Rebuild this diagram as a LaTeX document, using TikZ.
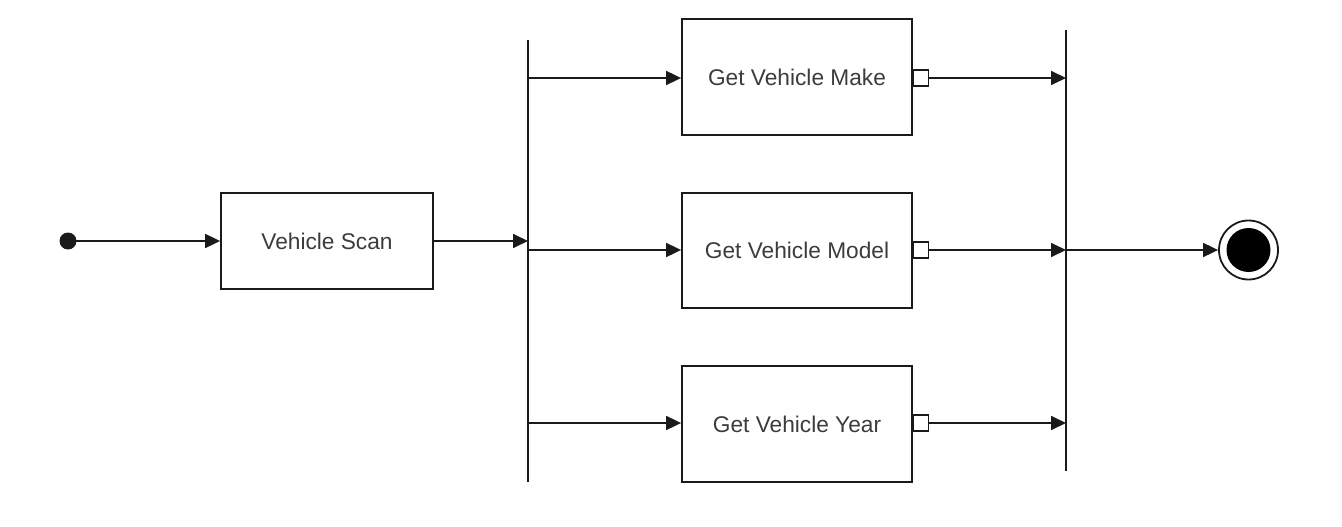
\documentclass[tikz,border=0pt]{standalone}
\usepackage{fontspec}
\setmainfont{Liberation Sans}
\usetikzlibrary{arrows.meta,positioning}
\definecolor{ln}{HTML}{1A1A1A}
\definecolor{tx}{HTML}{3C3C3C}
\tikzset{
  act/.style={draw=ln,line width=1.8pt,fill=white,minimum width=230pt,inner sep=0pt,text=tx,font=\fontsize{22.7}{26}\selectfont},
  bar/.style={fill=ln,draw=none,minimum width=2pt,inner sep=0pt},
  pinbox/.style={draw=ln,line width=1.5pt,fill=white,minimum width=15pt,minimum height=16pt,inner sep=0pt,anchor=west},
  flow/.style={draw=ln,line width=1.8pt,-{Triangle[length=15pt,width=14pt]}},
}
\begin{document}
\begin{tikzpicture}[x=1pt,y=-1pt]
\useasboundingbox (0,0) rectangle (1342,527);
% start
\node[circle,fill=ln,minimum size=17pt,inner sep=0pt] (start) at (68,241) {};
\node[act,minimum width=212pt,minimum height=96pt] (scan) at (327,241) {Vehicle Scan};
% fork and join bars
\node[bar,minimum height=442pt] (fork) at (528,261) {};
\node[bar,minimum height=441pt] (join) at (1066,250.5) {};
% actions
\node[act,minimum height=116pt] (make) at (797,77) {Get Vehicle Make};
\node[act,minimum height=115pt] (model) at (797,250.5) {Get Vehicle Model};
\node[act,minimum height=116pt] (year) at (797,424) {Get Vehicle Year};
% pins
\node[pinbox] (pinA) at (make.east |- 0,78) {};
\node[pinbox] (pinB) at (model.east |- 0,250) {};
\node[pinbox] (pinC) at (year.east |- 0,423) {};
% end
\node[circle,draw=ln,line width=1.8pt,fill=white,minimum size=59pt,inner sep=0pt] (end) at (1248.5,250) {};
\node[circle,fill=black,minimum size=44pt,inner sep=0pt] at (end.center) {};
% connectors
\draw[flow] (start.center) -- (scan.west);
\draw[flow] (scan.east) -- (fork.center |- scan.east);
\draw[flow] (fork.center |- 0,78) -- (make.west |- 0,78);
\draw[flow] (fork.center |- 0,250) -- (model.west |- 0,250);
\draw[flow] (fork.center |- 0,423) -- (year.west |- 0,423);
\draw[flow] (pinA.east) -- (join.center |- pinA.east);
\draw[flow] (pinB.east) -- (join.center |- pinB.east);
\draw[flow] (pinC.east) -- (join.center |- pinC.east);
\draw[flow] (join.center |- end.west) -- (end.west);
\end{tikzpicture}
\end{document}
